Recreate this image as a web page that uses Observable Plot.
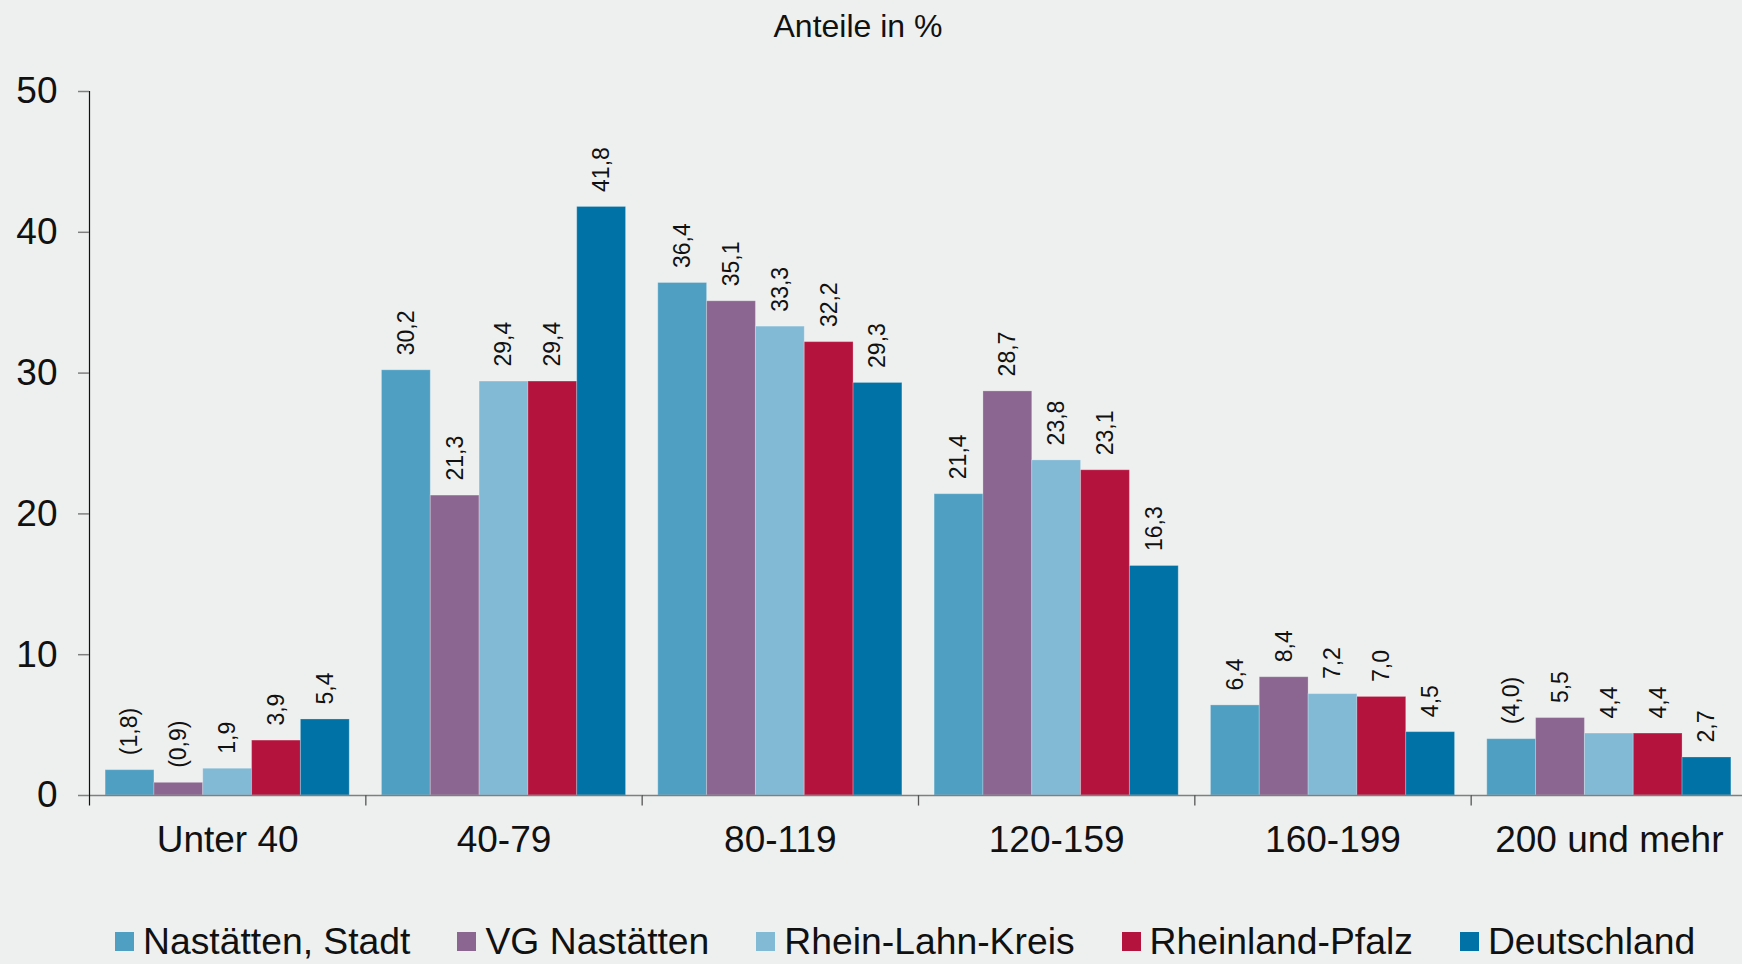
<!DOCTYPE html>
<html>
<head>
<meta charset="utf-8">
<script src="https://cdn.jsdelivr.net/npm/d3@7"></script>
<script src="https://cdn.jsdelivr.net/npm/@observablehq/plot@0.6"></script>
<style>
  html, body { margin: 0; padding: 0; background: #eef0ef; }
  body { width: 1742px; height: 964px; position: relative; overflow: hidden; font-family: Arial, "Liberation Sans", sans-serif; color: #111; }
  #title { position: absolute; top: 10px; left: 0; width: 1716px; text-align: center; font-size: 32px; line-height: 32px; }
  #chart { position: absolute; top: 50px; left: 0; }
  #legend { position: absolute; top: 923px; left: 115px; height: 37px; display: flex; gap: 47px; font-size: 37.3px; line-height: 37px; white-space: nowrap; }
  .item { display: flex; align-items: center; }
  .sw { width: 19px; height: 19px; margin-right: 9px; }
</style>
</head>
<body>
<div id="title">Anteile in %</div>
<div id="chart"></div>
<div id="legend"></div>
<script>
// ---- data ----
const groups = ["Unter 40", "40-79", "80-119", "120-159", "160-199", "200 und mehr"];
const series = ["Nastätten, Stadt", "VG Nastätten", "Rhein-Lahn-Kreis", "Rheinland-Pfalz", "Deutschland"];
const colors = ["#4f9fc2", "#8b6690", "#82b9d5", "#b4133d", "#0072a5"];
const nastaettenStadt = [1.8, 30.2, 36.4, 21.4, 6.4, 4.0];
const vgNastaetten    = [0.9, 21.3, 35.1, 28.7, 8.4, 5.5];
const rheinLahnKreis  = [1.9, 29.4, 33.3, 23.8, 7.2, 4.4];
const rheinlandPfalz  = [3.9, 29.4, 32.2, 23.1, 7.0, 4.4];
const deutschland     = [5.4, 41.8, 29.3, 16.3, 4.5, 2.7];
// values shown in parentheses (limited reliability)
const bracketed = [["Nastätten, Stadt", "Unter 40"], ["VG Nastätten", "Unter 40"], ["Nastätten, Stadt", "200 und mehr"]];
const yTicks = [0, 10, 20, 30, 40, 50];

const valuesBySeries = [nastaettenStadt, vgNastaetten, rheinLahnKreis, rheinlandPfalz, deutschland];
const fmt = v => v.toFixed(1).replace(".", ",");
const rows = [];
series.forEach((s, si) => groups.forEach((g, gi) => {
  const v = valuesBySeries[si][gi];
  const br = bracketed.some(([bs, bg]) => bs === s && bg === g);
  rows.push({series: s, group: g, value: v, label: br ? `(${fmt(v)})` : fmt(v)});
}));

// ---- layout constants ----
const W = 1742, marginLeft = 89, marginRight = -5;
const padOuter = 0.33;
const facetW = (W - marginLeft - marginRight) / groups.length;
const step = facetW / (series.length + 2 * padOuter);
const sepDx = -(padOuter * step + step / 2);

const chart = Plot.plot({
  width: W,
  height: 840,
  marginLeft, marginRight,
  marginTop: 41,
  marginBottom: 95,
  style: {background: "transparent", fontFamily: "Arial, 'Liberation Sans', sans-serif", color: "#111", overflow: "visible"},
  fx: {domain: groups, padding: 0, round: false},
  x: {domain: series, paddingInner: 0, paddingOuter: padOuter, round: false, axis: null},
  y: {domain: [0, 50], axis: null},
  color: {domain: series, range: colors},
  marks: [
    Plot.barY(rows, {fx: "group", x: "series", y: "value", fill: "series", stroke: "white", strokeOpacity: 0.25, strokeWidth: 1}),
    Plot.ruleY([0], {stroke: "#7f7f7f", strokeWidth: 1.3}),
    // group separators below the baseline
    Plot.ruleX(groups.slice(1), {fx: d => d, x: () => series[0], y1: 0, y2: -0.75, dx: sepDx, stroke: "#555", strokeWidth: 1.3}),
    // y axis line (left edge of the first group)
    Plot.ruleX([groups[0]], {fx: d => d, x: () => series[0], y1: -0.75, y2: 50, dx: sepDx, stroke: "#111", strokeWidth: 1.2}),
    Plot.text(rows, {fx: "group", x: "series", y: "value", text: "label", rotate: -90, textAnchor: "start", lineAnchor: "middle", dy: -15, fontSize: 23, fill: "#111"}),
    Plot.axisY({ticks: yTicks, tickSize: 11, tickPadding: 21, fontSize: 37, stroke: "#7f7f7f", strokeWidth: 1.5, fill: "#111", label: null}),
    Plot.axisFx({anchor: "bottom", tickSize: 0, tickPadding: 30, fontSize: 37, fill: "#111", label: null})
  ]
});
document.getElementById("chart").appendChild(chart);

const legend = document.getElementById("legend");
series.forEach((s, i) => {
  const it = document.createElement("div");
  it.className = "item";
  const sw = document.createElement("span");
  sw.className = "sw";
  sw.style.background = colors[i];
  const t = document.createElement("span");
  t.textContent = s;
  it.appendChild(sw); it.appendChild(t);
  legend.appendChild(it);
});
</script>
</body>
</html>
